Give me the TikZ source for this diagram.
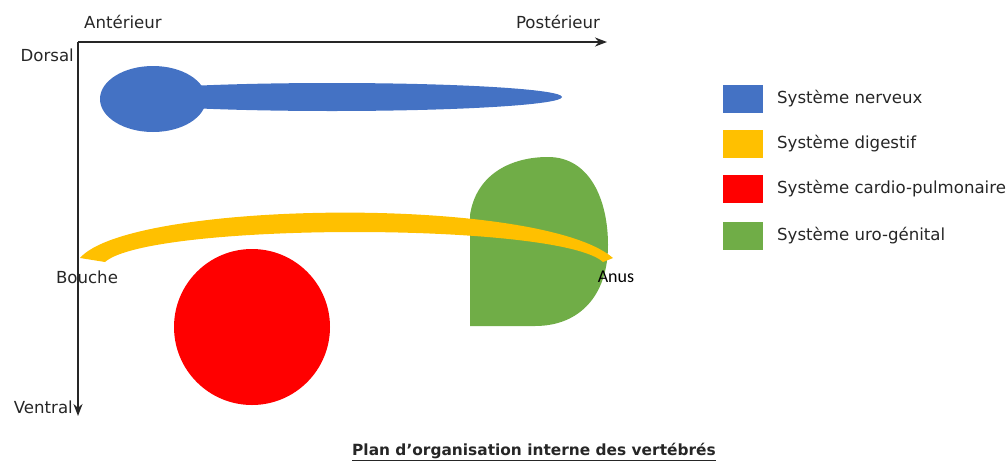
\documentclass[tikz,border=0pt]{standalone}
\usepackage{fontspec}
\setmainfont{DejaVu Sans}
\newfontfamily\anusfont{Carlito}
\usetikzlibrary{arrows.meta}
\definecolor{nervblue}{HTML}{4472C4}
\definecolor{digyellow}{HTML}{FFC000}
\definecolor{cardred}{HTML}{FF0000}
\definecolor{urogreen}{HTML}{70AD47}

\begin{document}
\begin{tikzpicture}[x=1pt,y=-1pt,
    lbl/.style={font=\fontsize{16.6}{18}\selectfont, text=black!85, inner sep=0pt},
    legendbox/.style={minimum width=40pt, minimum height=28pt, inner sep=0pt}]
    \useasboundingbox (0,0) rectangle (1007,464);

    % axes
    \coordinate (O) at (78,42);
    \coordinate (post) at (607,42);
    \coordinate (vent) at (78,416);
    \path (O) [-Stealth, black!85, line width=2pt] edge (post)
          (O) [-Stealth, black!85, line width=2pt] edge (vent);

    \node[lbl] (ant) at (123,22) {Antérieur};
    \node[lbl] (postlbl) at (558,22) {Postérieur};
    \node[lbl, anchor=east] (dors) at (74,55) {Dorsal};
    \node[lbl, anchor=east] (ventlbl) at (73,407) {Ventral};

    % uro-genital
    \fill[urogreen] (470,326) -- (470,215) .. controls (476,175) and (510,157) .. (548,157)
        .. controls (590,157) and (608,200) .. (608,245)
        .. controls (608,295) and (580,326) .. (535,326) -- cycle;

    % digestif
    \fill[digyellow] (80,258) .. controls (130,200) and (540,195) .. (613,258)
        -- (603,262) .. controls (560,222) and (150,222) .. (105,262) -- cycle;

    % nerveux
    \fill[nervblue] (332,97) ellipse [x radius=230, y radius=14];
    \fill[nervblue] (153,99) ellipse [x radius=53, y radius=33];

    % cardio-pulmonaire
    \fill[cardred] (252,327) circle [radius=78];

    \node[lbl] (bouche) at (87,277) {Bouche};
    \node[font=\anusfont\fontsize{18}{20}\selectfont, inner sep=0pt] (anus) at (616,277) {Anus};

    % legende
    \node[legendbox, fill=nervblue] (l1) at (743,99) {};
    \node[legendbox, fill=digyellow] (l2) at (743,144) {};
    \node[legendbox, fill=cardred] (l3) at (743,189) {};
    \node[legendbox, fill=urogreen] (l4) at (743,236) {};
    \node[lbl, anchor=west] (t1) at (777,99) {Système nerveux};
    \node[lbl, anchor=west] (t2) at (777,144) {Système digestif};
    \node[lbl, anchor=west] (t3) at (777,189) {Système cardio-pulmonaire};
    \node[lbl, anchor=west] (t4) at (777,236) {Système uro-génital};

    \node[lbl, font=\bfseries\fontsize{15.4}{17}\selectfont] (titre) at (534,452) {\underline{Plan d’organisation interne des vertébrés}};
\end{tikzpicture}
\end{document}
